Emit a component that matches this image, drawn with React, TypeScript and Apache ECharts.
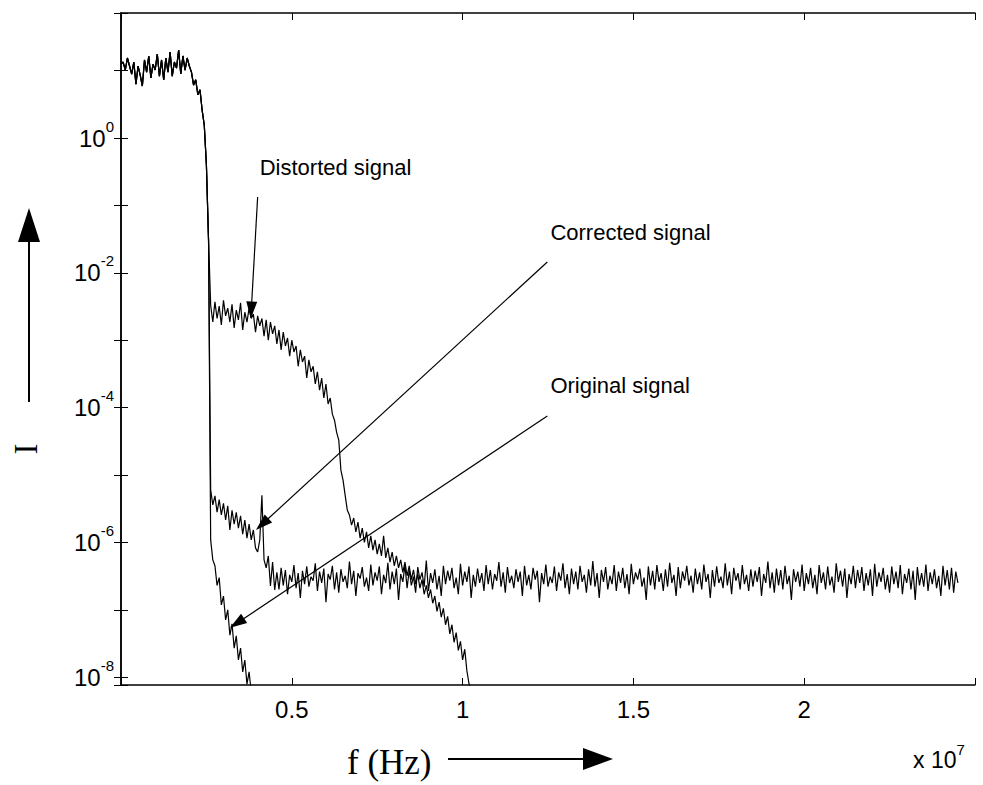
import React, { useEffect, useRef } from "react";
import * as echarts from "echarts";

// ---------- data ----------
const FREQ_STEP_HZ = 62500; // sample spacing of the spectra
const X_MIN_HZ = 0;
const X_MAX_HZ = 2.5e7;
const X_TICK_HZ = 5e6;
const X_LABEL_SCALE = 1e7;
const Y_MIN = 7.66e-9;
const Y_MAX = 71.6;

// main band, common to all three spectra (f = 0 ... 0.26e7 Hz)
const SHARED_MAIN_BAND = [
  12.5, 13.4, 10.2, 15.4, 11.7, 8.9, 13.4, 6.3, 11.7, 8.6, 5.9, 14.4, 9.5, 16.5,
  7.8, 12.5, 10.2, 17.6, 8.3, 14.4, 7.3, 15.4, 9.5, 18.9, 8.3, 13.4, 10.9, 20.2,
  8.9, 16.5, 10.2, 15.4, 11.7, 9.5, 6.1, 7.3, 4.4, 5.2, 2.6, 1.56, 0.4, 0.031,
];

const DISTORTED_TAIL = [
  3.3e-3, 1.86e-3, 3.7e-3, 2.1e-3, 3.2e-3, 1.68e-3, 3.9e-3, 2.3e-3, 3.0e-3, 1.86e-3,
  3.4e-3, 1.52e-3, 2.8e-3, 2.0e-3, 3.6e-3, 1.42e-3, 2.6e-3, 1.86e-3, 3.0e-3, 2.1e-3,
  2.45e-3, 1.32e-3, 2.3e-3, 1.63e-3, 2.1e-3, 1.15e-3, 2.0e-3, 1.0e-3, 1.86e-3, 1.24e-3,
  1.63e-3, 8.8e-4, 1.42e-3, 7.2e-4, 1.32e-3, 8.2e-4, 1.08e-3, 5.8e-4, 1.0e-3, 6.7e-4,
  8.2e-4, 4.1e-4, 7.2e-4, 4.75e-4, 5.8e-4, 2.75e-4, 5.1e-4, 3.4e-4, 4.1e-4, 2.24e-4,
  3.4e-4, 1.82e-4, 2.75e-4, 1.39e-4, 2.24e-4, 1.13e-4, 1.39e-4, 8.0e-5, 6.5e-5, 4.3e-5,
  3.3e-5, 1.18e-5, 8.4e-6, 5.0e-6, 3.0e-6, 2.55e-6, 1.8e-6, 2.3e-6, 1.43e-6, 2.0e-6,
  1.16e-6, 1.63e-6, 1.0e-6, 1.43e-6, 8.3e-7, 1.25e-6, 7.7e-7, 1.09e-6, 6.7e-7, 9.5e-7,
  6.3e-7, 1.25e-6, 5.9e-7, 8.3e-7, 5.1e-7, 7.2e-7, 4.5e-7, 6.3e-7, 4.2e-7, 5.5e-7,
  3.6e-7, 5.1e-7, 3.2e-7, 4.5e-7, 2.8e-7, 3.9e-7, 2.4e-7, 3.4e-7, 2.1e-7, 2.8e-7,
  1.7e-7, 2.3e-7, 1.5e-7, 2.0e-7, 1.25e-7, 1.6e-7, 9.5e-8, 1.3e-7, 7.8e-8, 1.05e-7,
  6.0e-8, 8.0e-8, 4.4e-8, 6.0e-8, 3.3e-8, 4.6e-8, 2.5e-8, 3.4e-8, 1.8e-8, 2.6e-8,
  1.25e-8, 8.0e-9, 5.4e-9,
];

const CORRECTED_TAIL = [
  6.0e-6, 3.6e-6, 4.9e-6, 2.8e-6, 4.3e-6, 2.55e-6, 3.8e-6, 2.15e-6, 3.5e-6, 1.53e-6,
  3.0e-6, 1.87e-6, 2.8e-6, 1.63e-6, 2.47e-6, 1.33e-6, 2.15e-6, 1.16e-6, 1.87e-6, 1.09e-6,
  1.53e-6, 8.3e-7, 7.2e-7, 1.09e-6, 5.0e-6, 5.5e-7, 4.2e-7, 6.3e-7, 2.25e-7, 5.1e-7,
  1.97e-7,
  // noise floor
  3.6e-7, 2.0e-7, 4.2e-7, 2.3e-7, 3.9e-7, 1.7e-7, 3.3e-7, 2.6e-7, 4.6e-7, 2.1e-7, 3.5e-7, 1.5e-7, 3.8e-7, 2.4e-7, 4.4e-7, 2.2e-7,
  3.1e-7, 2.7e-7, 4.9e-7, 1.9e-7, 3.7e-7, 2.5e-7, 4.1e-7, 1.3e-7, 3.4e-7, 2.8e-7, 4.5e-7, 2.0e-7, 3.6e-7, 1.8e-7, 4.0e-7, 2.6e-7,
  3.2e-7, 2.1e-7, 5.2e-7, 2.4e-7, 3.8e-7, 1.6e-7, 3.5e-7, 2.9e-7, 4.3e-7, 2.2e-7, 3.0e-7, 1.9e-7, 4.7e-7, 2.3e-7, 3.6e-7, 2.7e-7,
  4.4e-7, 1.7e-7, 3.3e-7, 2.5e-7, 5.0e-7, 2.0e-7, 3.7e-7, 2.4e-7, 4.1e-7, 1.4e-7, 3.4e-7, 2.6e-7, 4.6e-7, 2.1e-7, 3.9e-7, 2.3e-7,
  3.1e-7, 1.8e-7, 4.3e-7, 2.8e-7, 3.6e-7, 2.2e-7, 5.4e-7, 1.9e-7, 3.5e-7, 2.5e-7, 4.0e-7, 2.0e-7, 3.2e-7, 1.6e-7, 4.5e-7, 2.4e-7,
  3.8e-7, 2.7e-7, 4.2e-7, 2.1e-7, 3.0e-7, 1.7e-7, 4.8e-7, 2.3e-7, 3.7e-7, 2.6e-7, 4.4e-7, 1.5e-7, 3.3e-7, 2.2e-7, 4.1e-7, 2.5e-7,
  3.5e-7, 1.9e-7, 4.6e-7, 2.4e-7, 3.9e-7, 2.0e-7, 3.4e-7, 2.7e-7, 5.1e-7, 2.2e-7, 3.6e-7, 1.8e-7, 4.3e-7, 2.5e-7, 3.2e-7, 2.1e-7,
  4.0e-7, 2.6e-7, 3.7e-7, 1.6e-7, 4.5e-7, 2.3e-7, 3.3e-7, 2.0e-7, 4.2e-7, 2.8e-7, 3.8e-7, 1.3e-7, 3.5e-7, 2.4e-7, 4.7e-7, 2.2e-7,
  3.1e-7, 2.5e-7, 4.4e-7, 1.9e-7, 3.6e-7, 2.7e-7, 4.9e-7, 2.1e-7, 3.4e-7, 1.7e-7, 4.1e-7, 2.4e-7, 3.7e-7, 2.0e-7, 4.5e-7, 2.6e-7,
  3.3e-7, 1.8e-7, 4.0e-7, 2.3e-7, 5.3e-7, 2.2e-7, 3.5e-7, 1.5e-7, 3.9e-7, 2.6e-7, 4.3e-7, 2.0e-7, 3.2e-7, 2.4e-7, 4.6e-7, 1.9e-7,
  3.7e-7, 2.5e-7, 4.2e-7, 2.1e-7, 3.4e-7, 1.7e-7, 4.8e-7, 2.4e-7, 3.6e-7, 2.8e-7, 4.1e-7, 2.2e-7, 3.0e-7, 1.4e-7, 4.4e-7, 2.3e-7,
  3.8e-7, 2.0e-7, 4.6e-7, 2.6e-7, 3.5e-7, 1.9e-7, 4.0e-7, 2.2e-7, 5.0e-7, 2.5e-7, 3.3e-7, 1.6e-7, 4.3e-7, 2.1e-7, 3.7e-7, 2.7e-7,
  4.5e-7, 2.3e-7, 3.2e-7, 1.8e-7, 4.1e-7, 2.4e-7, 3.6e-7, 2.0e-7, 4.7e-7, 2.6e-7, 3.4e-7, 1.5e-7, 3.9e-7, 2.2e-7, 4.4e-7, 2.5e-7,
  3.1e-7, 2.1e-7, 4.9e-7, 2.3e-7, 3.7e-7, 1.7e-7, 4.2e-7, 2.7e-7, 3.5e-7, 2.0e-7, 4.6e-7, 2.4e-7, 3.3e-7, 1.9e-7, 4.0e-7, 2.2e-7,
  3.8e-7, 2.6e-7, 4.3e-7, 1.6e-7, 3.4e-7, 2.5e-7, 5.2e-7, 2.1e-7, 3.6e-7, 1.8e-7, 4.1e-7, 2.3e-7, 3.9e-7, 2.0e-7, 4.5e-7, 2.4e-7,
  3.2e-7, 1.4e-7, 4.0e-7, 2.6e-7, 3.7e-7, 2.2e-7, 4.7e-7, 1.9e-7, 3.5e-7, 2.4e-7, 4.2e-7, 2.1e-7, 3.3e-7, 1.7e-7, 4.6e-7, 2.5e-7,
  3.6e-7, 2.0e-7, 4.4e-7, 2.3e-7, 3.1e-7, 1.8e-7, 4.9e-7, 2.6e-7, 3.8e-7, 2.2e-7, 4.1e-7, 1.5e-7, 3.4e-7, 2.4e-7, 4.5e-7, 2.1e-7,
  3.9e-7, 2.5e-7, 4.3e-7, 1.9e-7, 3.5e-7, 2.3e-7, 4.0e-7, 1.6e-7, 4.8e-7, 2.2e-7, 3.6e-7, 2.6e-7, 4.2e-7, 2.0e-7, 3.3e-7, 1.8e-7,
  4.4e-7, 2.4e-7, 3.7e-7, 2.1e-7, 4.6e-7, 1.7e-7, 3.4e-7, 2.5e-7, 4.1e-7, 2.0e-7, 3.8e-7, 1.4e-7, 4.3e-7, 2.3e-7, 3.5e-7, 2.2e-7,
  4.7e-7, 1.9e-7, 3.6e-7, 2.4e-7, 4.0e-7, 2.1e-7, 3.2e-7, 1.6e-7, 4.5e-7, 2.3e-7, 3.9e-7, 2.0e-7, 4.2e-7, 1.8e-7, 3.7e-7, 2.5e-7,
];

const ORIGINAL_TAIL = [
  1.09e-6, 5.5e-7, 4.5e-7, 2.3e-7, 3.0e-7, 1.18e-7, 1.6e-7, 7.1e-8, 1.0e-7, 4.2e-8,
  6.2e-8, 2.7e-8, 4.1e-8, 1.8e-8, 2.7e-8, 1.2e-8, 1.8e-8, 7.9e-9, 1.2e-8, 6.0e-9, 5.0e-9,
];

const SERIES_NAMES = ["Original signal", "Distorted signal", "Corrected signal"];

// annotation anchors, in data coordinates [Hz, intensity]
const ANNOTATIONS = [
  { label: "Distorted signal", labelAt: [4.06e6, 0.37], from: [4.0e6, 0.133], to: [3.8e6, 2.1e-3] },
  { label: "Corrected signal", labelAt: [1.257e7, 0.0403], from: [1.248e7, 0.0145], to: [3.95e6, 1.53e-6] },
  { label: "Original signal", labelAt: [1.257e7, 2.16e-4], from: [1.248e7, 7.5e-5], to: [3.19e6, 5.4e-8] },
];

// ---------- styling ----------
const SANS = '"Liberation Sans", Arial, Helvetica, sans-serif';
const SERIF = '"Liberation Serif", "Times New Roman", Times, serif';
const INK = "#000";

function toPoints(tail: number[]) {
  return SHARED_MAIN_BAND.concat(tail).map((v, i) => [i * FREQ_STEP_HZ, v]);
}

function arrow(s: number[], t: number[], len: number, hw: number, lw: number) {
  const dx = t[0] - s[0];
  const dy = t[1] - s[1];
  const d = Math.hypot(dx, dy);
  const ux = dx / d;
  const uy = dy / d;
  const bx = t[0] - ux * len;
  const by = t[1] - uy * len;
  const nx = -uy;
  const ny = ux;
  return [
    {
      type: "line",
      silent: true,
      shape: { x1: s[0], y1: s[1], x2: bx + ux * 2, y2: by + uy * 2 },
      style: { stroke: INK, lineWidth: lw },
    },
    {
      type: "polygon",
      silent: true,
      shape: {
        points: [
          [t[0], t[1]],
          [bx + nx * hw, by + ny * hw],
          [bx - nx * hw, by - ny * hw],
        ],
      },
      style: { fill: INK },
    },
  ];
}

function yLabel(v: number) {
  const l = Math.log10(v);
  const e = Math.round(l);
  if (Math.abs(l - e) > 1e-6 || e % 2 !== 0) return "";
  return `{b|10}{s|${e}}`;
}

const Y_RICH = {
  b: { fontSize: 24, fontFamily: SANS, color: INK },
  s: { fontSize: 15, fontFamily: SANS, color: INK, padding: [0, 0, 24, 0] },
};

export default function App() {
  const ref = useRef<HTMLDivElement>(null);

  useEffect(() => {
    if (!ref.current) return;
    const chart = echarts.init(ref.current, null, { renderer: "svg" });

    const xCommon = {
      type: "value",
      min: X_MIN_HZ,
      max: X_MAX_HZ,
      interval: X_TICK_HZ,
      axisLine: { show: true, onZero: false, lineStyle: { color: INK, width: 1.5 } },
      axisTick: { show: true, inside: true, length: 7, lineStyle: { color: INK, width: 1 } },
      splitLine: { show: false },
    };
    const yCommon = {
      type: "log",
      logBase: 10,
      min: Y_MIN,
      max: Y_MAX,
      splitNumber: 10,
      axisLine: { show: true, lineStyle: { color: INK, width: 1.5 } },
      axisTick: { show: true, inside: true, length: 7, lineStyle: { color: INK, width: 1 } },
      splitLine: { show: false },
      minorTick: { show: false },
    };

    const option = {
      animation: false,
      backgroundColor: "#fff",
      grid: { left: 121, right: 8, top: 13, bottom: 100, containLabel: false },
      xAxis: [
        {
          ...xCommon,
          position: "bottom",
          axisLabel: {
            show: true,
            margin: 12,
            color: INK,
            fontSize: 24,
            fontFamily: SANS,
            formatter: (v: number) =>
              v <= X_MIN_HZ || v >= X_MAX_HZ ? "" : String(+(v / X_LABEL_SCALE).toFixed(2)),
          },
        },
        { ...xCommon, position: "top", axisLabel: { show: false } },
      ],
      yAxis: [
        {
          ...yCommon,
          position: "left",
          axisLabel: { show: true, margin: 7, formatter: yLabel, rich: Y_RICH },
        },
        { ...yCommon, position: "right", axisLabel: { show: false } },
      ],
      series: [
        { name: SERIES_NAMES[0], data: toPoints(ORIGINAL_TAIL) },
        { name: SERIES_NAMES[1], data: toPoints(DISTORTED_TAIL) },
        { name: SERIES_NAMES[2], data: toPoints(CORRECTED_TAIL) },
      ].map((s) => ({
        ...s,
        type: "line",
        xAxisIndex: 0,
        yAxisIndex: 0,
        showSymbol: false,
        symbol: "none",
        clip: true,
        silent: true,
        lineStyle: { color: "#000", width: 1.2 },
      })),
    };

    chart.setOption(option as any);

    const toPx = (pt: number[]) =>
      chart.convertToPixel({ xAxisIndex: 0, yAxisIndex: 0 }, pt) as number[];

    const graphics: any[] = [];
    ANNOTATIONS.forEach((a) => {
      const lp = toPx(a.labelAt);
      graphics.push({
        type: "text",
        silent: true,
        x: lp[0],
        y: lp[1],
        style: {
          text: a.label,
          fontSize: 22,
          fontFamily: SANS,
          fill: INK,
          align: "left",
          verticalAlign: "middle",
        },
      });
      graphics.push(...arrow(toPx(a.from), toPx(a.to), 17, 5.5, 1.2));
    });

    // axis-direction arrows and axis titles
    graphics.push(...arrow([29, 402], [29, 208], 34, 11, 2));
    graphics.push(...arrow([448, 759], [613, 759], 30, 11, 2));
    graphics.push({
      type: "text",
      silent: true,
      x: 26,
      y: 449,
      rotation: Math.PI / 2,
      style: {
        text: "I",
        fontSize: 33,
        fontFamily: SERIF,
        fill: INK,
        align: "center",
        verticalAlign: "middle",
      },
    });
    graphics.push({
      type: "text",
      silent: true,
      x: 347,
      y: 762,
      style: {
        text: "f (Hz)",
        fontSize: 35,
        fontFamily: SERIF,
        fill: INK,
        align: "left",
        verticalAlign: "middle",
      },
    });
    graphics.push({
      type: "text",
      silent: true,
      x: 913,
      y: 760,
      style: {
        text: "{b|x 10}{s|7}",
        rich: {
          b: { fontSize: 23, fontFamily: SANS, fill: INK },
          s: { fontSize: 15, fontFamily: SANS, fill: INK, padding: [0, 0, 22, 0] },
        },
        align: "left",
        verticalAlign: "middle",
      },
    });

    chart.setOption({ graphic: graphics });

    return () => chart.dispose();
  }, []);

  return (
    <div
      ref={ref}
      style={{ position: "fixed", left: 0, top: 0, width: 983, height: 785, background: "#fff" }}
    />
  );
}
